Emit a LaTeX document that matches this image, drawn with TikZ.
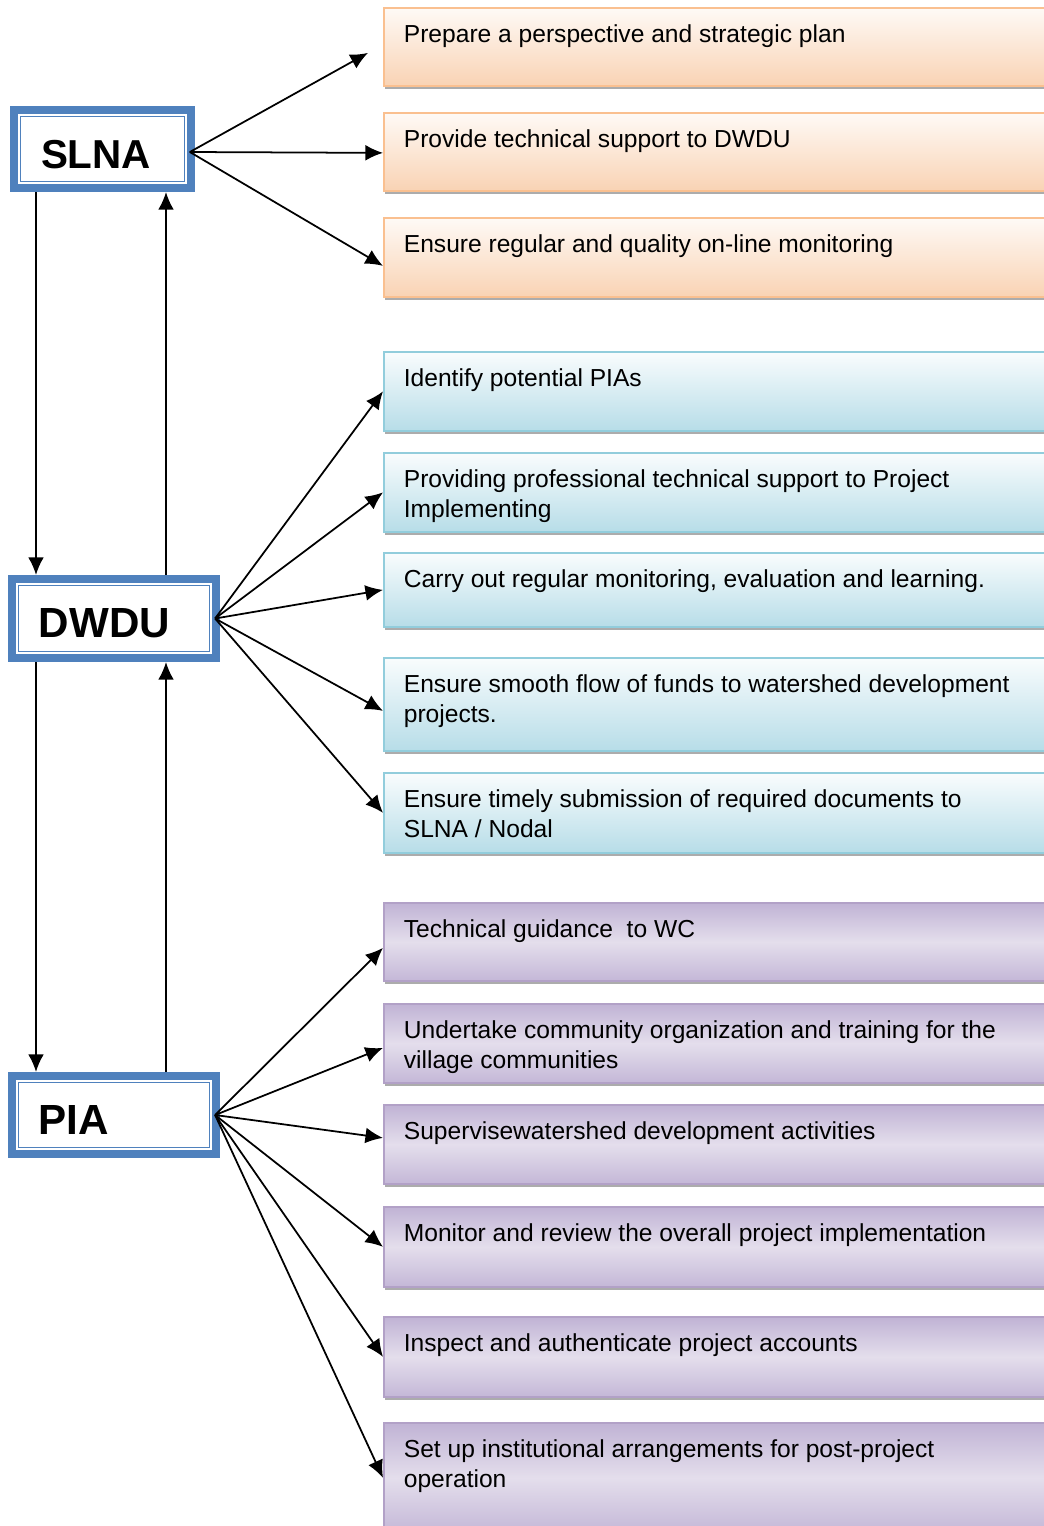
\documentclass[tikz,border=0pt]{standalone}
\usepackage{fontspec}
\setmainfont{Liberation Sans}
\usepackage{tikz}
\usetikzlibrary{arrows.meta, shadows, positioning}
\definecolor{unitblue}{HTML}{4F81BD}
\definecolor{orangeedge}{HTML}{FAC090}
\definecolor{orangefill}{HTML}{F9D3B4}
\definecolor{blueedge}{HTML}{92CDDC}
\definecolor{bluefill}{HTML}{B7DDE8}
\definecolor{purpleedge}{HTML}{B2A1C7}
\definecolor{purplefill}{HTML}{BCAED2}
\definecolor{purplelight}{HTML}{E4DEEC}
\newcommand{\tasktext}[2]{\parbox[t][#1][t]{13.2cm}{\raggedright\strut #2}}
\tikzstyle{unit} = [rectangle, draw=unitblue, line width=4.4pt, fill=white, inner xsep=0.54cm, align=left, text height=22pt, text depth=0pt, font=\fontsize{24}{28}\selectfont\bfseries, path picture={\draw[unitblue, line width=0.9pt] ([shift={(3.8pt,3.8pt)}]path picture bounding box.south west) rectangle ([shift={(-3.8pt,-3.8pt)}]path picture bounding box.north east);}]
\tikzstyle{task} = [rectangle, anchor=north west, minimum width=14cm, inner xsep=0.4cm, inner ysep=0.28cm, line width=1pt, font=\fontsize{14}{17}\selectfont, drop shadow={shadow xshift=0.6pt, shadow yshift=-1.8pt, fill=gray!65, opacity=1}]
\tikzstyle{slnatask} = [task, draw=orangeedge, top color=orangefill!12, bottom color=orangefill]
\tikzstyle{dwdutask} = [task, draw=blueedge, top color=bluefill!8, bottom color=bluefill]
\tikzstyle{piatask} = [task, draw=purpleedge, top color=purplefill!90!purplelight, bottom color=purplefill!80!purplelight, middle color=purplelight]
\tikzstyle{arrow} = [line width=1pt, -{Latex[length=10pt, width=9pt]}]

\begin{document}
\begin{tikzpicture}[x=0.02cm, y=-0.02cm]
        \useasboundingbox (0,0) rectangle (1044,1526);
        \clip (0,0) rectangle (1044,1526);

        % units on the left
        \node (slna) [unit, minimum width=3.54cm, minimum height=1.57cm, text width=2.46cm, font=\fontsize{23}{28}\selectfont\bfseries] at (102.5,149) {SLNA};
        \node (dwdu) [unit, minimum width=4.09cm, minimum height=1.59cm, text width=3.01cm] at (114,618.5) {DWDU};
        \node (pia) [unit, minimum width=4.09cm, minimum height=1.57cm, text width=3.01cm] at (114,1115) {PIA};
        \coordinate (downlane) at (36,0);
        \coordinate (uplane) at (166,0);

        % tasks of SLNA
        \node (plan) [slnatask] at (383,7) {\tasktext{1.00cm}{Prepare a perspective and strategic plan}};
        \node (support) [slnatask] at (383,112) {\tasktext{1.00cm}{Provide technical support to DWDU}};
        \node (monitor) [slnatask] at (383,217) {\tasktext{1.02cm}{Ensure regular and quality on-line monitoring}};

        % tasks of DWDU
        \node (identify) [dwdutask] at (383,351) {\tasktext{1.02cm}{Identify potential PIAs}};
        \node (techsupport) [dwdutask] at (383,452) {\tasktext{1.02cm}{Providing professional technical support to Project\\Implementing}};
        \node (learning) [dwdutask] at (383,552) {\tasktext{0.92cm}{Carry out regular monitoring, evaluation and learning.}};
        \node (funds) [dwdutask] at (383,657) {\tasktext{1.30cm}{Ensure smooth flow of funds to watershed development\\projects.}};
        \node (documents) [dwdutask] at (383,772) {\tasktext{1.04cm}{Ensure timely submission of required documents to\\SLNA / Nodal}};

        % tasks of PIA
        \node (guidance) [piatask] at (383,902) {\tasktext{1.00cm}{Technical guidance\ \ to WC}};
        \node (community) [piatask] at (383,1003) {\tasktext{1.02cm}{Undertake community organization and training for the\\village communities}};
        \node (supervise) [piatask] at (383,1104) {\tasktext{1.02cm}{Supervisewatershed development activities}};
        \node (review) [piatask] at (383,1206) {\tasktext{1.04cm}{Monitor and review the overall project implementation}};
        \node (accounts) [piatask] at (383,1316) {\tasktext{1.04cm}{Inspect and authenticate project accounts}};
        \node (postproject) [piatask] at (383,1422) {\tasktext{1.64cm}{Set up institutional arrangements for post-project\\operation}};

        % between the units
        \draw [arrow] (slna.south -| downlane) -- (dwdu.north -| downlane);
        \draw [arrow] (dwdu.north -| uplane) -- (slna.south -| uplane);
        \draw [arrow] (dwdu.south -| downlane) -- (pia.north -| downlane);
        \draw [arrow] (pia.north -| uplane) -- (dwdu.south -| uplane);

        % from the units to their tasks
        \draw [arrow] ([xshift=-0.1cm, yshift=-0.06cm]slna.east) -- ([xshift=-0.3cm, yshift=-0.12cm]plan.west);
        \draw [arrow] ([xshift=-0.1cm, yshift=-0.06cm]slna.east) -- ([yshift=-0.02cm]support.west);
        \draw [arrow] ([xshift=-0.1cm, yshift=-0.06cm]slna.east) -- ([yshift=-0.17cm]monitor.west);
        \draw [arrow] ([xshift=-0.1cm]dwdu.east) -- (identify.west);
        \draw [arrow] ([xshift=-0.1cm]dwdu.east) -- (techsupport.west);
        \draw [arrow] ([xshift=-0.1cm]dwdu.east) -- (learning.west);
        \draw [arrow] ([xshift=-0.1cm]dwdu.east) -- ([yshift=-0.13cm]funds.west);
        \draw [arrow] ([xshift=-0.1cm]dwdu.east) -- (documents.west);
        \draw [arrow] ([xshift=-0.1cm]pia.east) -- ([yshift=-0.12cm]guidance.west);
        \draw [arrow] ([xshift=-0.1cm]pia.east) -- ([yshift=-0.09cm]community.west);
        \draw [arrow] ([xshift=-0.1cm]pia.east) -- ([yshift=0.13cm]supervise.west);
        \draw [arrow] ([xshift=-0.1cm]pia.east) -- (review.west);
        \draw [arrow] ([xshift=-0.1cm]pia.east) -- (accounts.west);
        \draw [arrow] ([xshift=-0.1cm]pia.east) -- (postproject.west);
\end{tikzpicture}
\end{document}
